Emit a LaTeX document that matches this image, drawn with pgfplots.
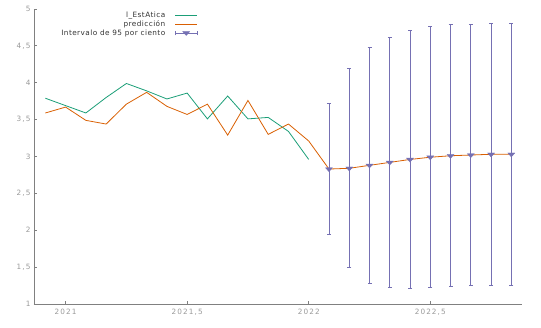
\documentclass[border=0pt]{standalone}
\usepackage{pgfplots}
\pgfplotsset{compat=1.18}
\usepackage{fontspec}
\setmainfont{DejaVu Sans}
\newfontfamily\tickfont[LetterSpace=15]{DejaVu Sans}
\newfontfamily\legfont[LetterSpace=6]{DejaVu Sans}
\definecolor{cgreen}{HTML}{1B9E77}
\definecolor{corange}{HTML}{D95F02}
\definecolor{cpurple}{HTML}{7570B3}
\definecolor{caxis}{HTML}{808080}
\definecolor{clabel}{HTML}{999999}
\definecolor{clegend}{HTML}{333333}
\begin{document}
\begin{tikzpicture}
\begin{axis}[
  at={(0,0)}, anchor=south west,
  scale only axis, width=487.7pt, height=295pt,
  xmin=2020.87, xmax=2022.876, ymin=1, ymax=5,
  axis x line*=bottom, axis y line*=left,
  axis line style={caxis, line width=0.8pt},
  tick align=inside, major tick length=3pt,
  tick style={caxis, line width=0.8pt},
  xtick={2021,2021.5,2022,2022.5},
  ytick={1,1.5,2,2.5,3,3.5,4,4.5,5},
  /pgf/number format/assume math mode=true,
  /pgf/number format/use comma,
  /pgf/number format/1000 sep={},
  ticklabel style={font=\tickfont\fontsize{7.3}{8}\selectfont, text=clabel},
  xticklabel style={yshift=-2pt},
  legend style={draw=none, fill=none, font=\legfont\fontsize{7.3}{9}\selectfont, text=clegend,
    at={(rel axis cs:0.336,0.993)}, anchor=north east, inner sep=0pt, row sep=1pt,
    column sep=9pt,
    nodes={inner sep=0.5pt, text height=5.5pt, text depth=1.5pt}},
  legend cell align=right, legend plot pos=right,
  legend image code/.code={\draw[#1] (0pt,0pt) -- (22pt,0pt);},
]
\addplot[cgreen, line width=0.8pt, mark=none] coordinates {
(2020.9167,3.79) (2021.0,3.69) (2021.0833,3.59) (2021.1667,3.80) (2021.25,3.99)
(2021.3333,3.89) (2021.4167,3.78) (2021.5,3.86) (2021.5833,3.51) (2021.6667,3.82)
(2021.75,3.51) (2021.8333,3.53) (2021.9167,3.34) (2022.0,2.96)};
\addlegendentry{l\_EstAtica}
\addplot[corange, line width=0.8pt, mark=none] coordinates {
(2020.9167,3.59) (2021.0,3.67) (2021.0833,3.49) (2021.1667,3.44) (2021.25,3.71)
(2021.3333,3.87) (2021.4167,3.68) (2021.5,3.57) (2021.5833,3.71) (2021.6667,3.29)
(2021.75,3.76) (2021.8333,3.30) (2021.9167,3.44) (2022.0,3.21)
(2022.0833,2.83) (2022.1667,2.84) (2022.25,2.88) (2022.3333,2.92) (2022.4167,2.96)
(2022.5,2.99) (2022.5833,3.01) (2022.6667,3.02) (2022.75,3.03) (2022.8333,3.03)};
\addlegendentry{predicción}
\addplot[color=cpurple, only marks, mark=triangle*, mark size=4pt,
  mark options={rotate=180, yscale=0.65, fill=cpurple, draw=cpurple},
  error bars/.cd, y dir=both, y explicit,
  error bar style={draw=cpurple, line width=0.9pt},
  error mark options={draw=cpurple, line width=0.9pt, mark size=2pt, rotate=90},
  /pgfplots/legend image code/.code={
    \draw[cpurple, line width=0.9pt] (0pt,0pt) -- (22pt,0pt);
    \draw[cpurple, line width=0.9pt] (0pt,-2pt) -- (0pt,2pt);
    \draw[cpurple, line width=0.9pt] (22pt,-2pt) -- (22pt,2pt);
    \fill[cpurple] (11pt,-2.2pt) -- (7.5pt,1.8pt) -- (14.5pt,1.8pt) -- cycle;
  }]
  table[x=x, y=y, y error=e] {
x y e
2022.0833 2.83 0.89
2022.1667 2.84 1.35
2022.25 2.88 1.595
2022.3333 2.92 1.70
2022.4167 2.96 1.75
2022.5 2.99 1.77
2022.5833 3.01 1.775
2022.6667 3.02 1.775
2022.75 3.03 1.78
2022.8333 3.03 1.78
};
\addlegendentry{Intervalo de 95 por ciento}
\end{axis}
\pgfresetboundingbox
\path[use as bounding box] (-34pt,-24pt) rectangle (507pt,304pt);
\end{tikzpicture}
\end{document}
